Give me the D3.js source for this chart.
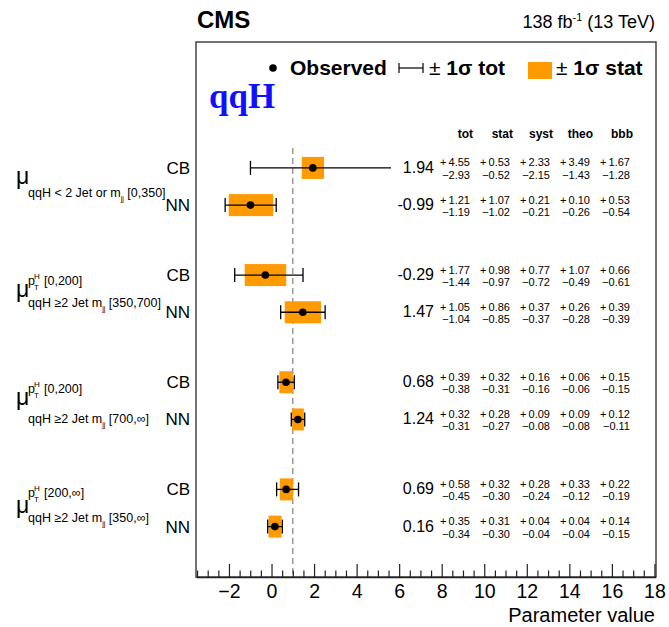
<!DOCTYPE html>
<html>
<head>
<meta charset="utf-8">
<script src="https://cdn.jsdelivr.net/npm/d3@7"></script>
<style>
  body { margin: 0; background: #fff; }
  text { font-family: "Liberation Sans", Arial, Helvetica, sans-serif; }
</style>
</head>
<body>
<div id="main"></div>
<script>
// rows: CB then NN for each of the four bins
var methods = ["CB", "NN"];
var subLabels = ["qqH < 2 Jet or m", "qqH \u22652 Jet m", "qqH \u22652 Jet m", "qqH \u22652 Jet m"];
var mjjRanges = ["[0,350]", "[350,700]", "[700,\u221e]", "[350,\u221e]"];
var ptRanges = [null, "[0,200]", "[0,200]", "[200,\u221e]"];

var observed = [1.94, -0.99, -0.29, 1.47, 0.68, 1.24, 0.69, 0.16];
var totUp  = [4.55, 1.21, 1.77, 1.05, 0.39, 0.32, 0.58, 0.35];
var totDn  = [2.93, 1.19, 1.44, 1.04, 0.38, 0.31, 0.45, 0.34];
var statUp = [0.53, 1.07, 0.98, 0.86, 0.32, 0.28, 0.32, 0.31];
var statDn = [0.52, 1.02, 0.97, 0.85, 0.31, 0.27, 0.30, 0.30];
var systUp = [2.33, 0.21, 0.77, 0.37, 0.16, 0.09, 0.28, 0.04];
var systDn = [2.15, 0.21, 0.72, 0.37, 0.16, 0.08, 0.24, 0.04];
var theoUp = [3.49, 0.10, 1.07, 0.26, 0.06, 0.09, 0.33, 0.04];
var theoDn = [1.43, 0.26, 0.49, 0.28, 0.06, 0.08, 0.12, 0.04];
var bbbUp  = [1.67, 0.53, 0.66, 0.39, 0.15, 0.12, 0.22, 0.14];
var bbbDn  = [1.28, 0.54, 0.61, 0.39, 0.15, 0.11, 0.19, 0.15];

var colNames = ["tot", "stat", "syst", "theo", "bbb"];
var xTicks = [-2, 0, 2, 4, 6, 8, 10, 12, 14, 16, 18];

var width = 669, height = 627;
var frame = {left: 196, right: 656, top: 42, bottom: 577};
var orange = "#ff9a00";

var svg = d3.select("#main").append("svg")
    .attr("width", width)
    .attr("height", height);

var x = d3.scaleLinear()
    .domain([-3.55, 18.05])
    .range([frame.left, 655.5]);

// group centres, CB above / NN below
var yGroup = d3.scaleLinear().domain([0, 3]).range([186.5, 508]);
var rowY = function(i){
  var g = Math.floor(i / 2);
  return yGroup(g) + (i % 2 === 0 ? -18.6 : 18.6);
}

var rows = observed.map(function(d, i){
  return {i: i, v: d, tu: totUp[i], td: totDn[i], su: statUp[i], sd: statDn[i],
    cols: [[totUp[i], totDn[i]], [statUp[i], statDn[i]], [systUp[i], systDn[i]],
           [theoUp[i], theoDn[i]], [bbbUp[i], bbbDn[i]]]};
});

// frame
svg.append("rect")
    .attr("x", frame.left).attr("y", frame.top)
    .attr("width", frame.right - frame.left)
    .attr("height", frame.bottom - frame.top)
    .attr("fill", "none")
    .attr("stroke", "#444")
    .attr("stroke-width", 1.5);

// SM line at 1
svg.append("line")
    .attr("x1", x(1)).attr("x2", x(1))
    .attr("y1", 148).attr("y2", frame.bottom)
    .attr("stroke", "#8a8a8a")
    .attr("stroke-width", 1.3)
    .attr("stroke-dasharray", "6,4");

// axis, ticks pointing up into the frame
var xAxis = d3.axisBottom(x)
    .tickValues(xTicks)
    .tickSizeInner(-13)
    .tickSizeOuter(0)
    .tickPadding(7.5)
    .tickFormat(function(d){ return d < 0 ? "\u2212" + Math.abs(d) : d; });

var minor = d3.range(-3.5, 18.01, 0.5).filter(function(d){ return d % 2 !== 0; });
var xMinor = d3.axisBottom(x)
    .tickValues(minor)
    .tickSizeInner(-6.5)
    .tickSizeOuter(0)
    .tickFormat("");

svg.append("g")
    .attr("transform", "translate(0," + frame.bottom + ")")
    .call(xMinor)
    .call(function(g){ g.select(".domain").remove(); })
    .selectAll("line").attr("stroke", "#222").attr("stroke-width", 1.2);

var ax = svg.append("g")
    .attr("transform", "translate(0," + frame.bottom + ")")
    .call(xAxis);
ax.select(".domain").attr("stroke", "#222").attr("stroke-width", 1.5);
ax.selectAll(".tick line").attr("stroke", "#222").attr("stroke-width", 1.2);
ax.selectAll(".tick text")
    .style("font-family", "Liberation Sans, Arial, sans-serif")
    .style("font-size", "19.5px")
    .style("fill", "#000");

svg.append("text")
    .attr("x", 655).attr("y", 622)
    .attr("text-anchor", "end")
    .style("font-size", "20px")
    .text("Parameter value");

// header texts
svg.append("text")
    .attr("x", 197).attr("y", 28)
    .style("font-size", "24px").style("font-weight", "bold")
    .text("CMS");

var lumi = svg.append("text")
    .attr("x", 655).attr("y", 28)
    .attr("text-anchor", "end")
    .style("font-size", "18px");
lumi.append("tspan").text("138 fb");
lumi.append("tspan").attr("dy", -7).style("font-size", "11px").text("-1");
lumi.append("tspan").attr("dy", 7).text(" (13 TeV)");

svg.append("text")
    .attr("x", 209).attr("y", 108)
    .style("font-family", "Liberation Serif, Times New Roman, serif")
    .style("font-size", "35px").style("font-weight", "bold")
    .style("fill", "#1010ff")
    .text("qqH");

// legend
var legY = 68;
svg.append("circle").attr("cx", 273).attr("cy", legY).attr("r", 3.8).attr("fill", "#000");
svg.append("text").attr("x", 290).attr("y", legY + 7)
    .style("font-size", "21px").style("font-weight", "bold").text("Observed");
svg.append("line").attr("x1", 399).attr("x2", 423).attr("y1", legY).attr("y2", legY)
    .attr("stroke", "#000").attr("stroke-width", 1.2);
[399, 423].forEach(function(cx){
  svg.append("line").attr("x1", cx).attr("x2", cx).attr("y1", legY - 5).attr("y2", legY + 5)
      .attr("stroke", "#000").attr("stroke-width", 1.2);
});
var t1 = svg.append("text").attr("x", 429).attr("y", legY + 7).style("font-size", "21px");
t1.append("tspan").text("\u00b1");
t1.append("tspan").style("font-weight", "bold").text(" 1\u03c3 tot");
svg.append("rect").attr("x", 528).attr("y", legY - 6).attr("width", 24).attr("height", 17)
    .attr("fill", orange);
var t2 = svg.append("text").attr("x", 556).attr("y", legY + 7).style("font-size", "21px");
t2.append("tspan").text("\u00b1");
t2.append("tspan").style("font-weight", "bold").text(" 1\u03c3 stat");

// marks
var capH = 7, boxH = 22;
var marks = svg.selectAll(".row").data(rows).enter().append("g")
    .attr("class", "row")
    .attr("transform", function(d){ return "translate(0," + rowY(d.i) + ")"; });

marks.append("rect")
    .attr("x", function(d){ return x(d.v - d.sd); })
    .attr("y", -boxH / 2)
    .attr("width", function(d){ return x(d.v + d.su) - x(d.v - d.sd); })
    .attr("height", boxH)
    .attr("fill", orange);

marks.append("line")
    .attr("x1", function(d){ return x(d.v - d.td); })
    .attr("x2", function(d){ return x(d.v + d.tu); })
    .attr("stroke", "#000").attr("stroke-width", 1.3);

marks.selectAll(".cap").data(function(d){ return [d.v - d.td, d.v + d.tu]; })
    .enter().append("line")
    .attr("class", "cap")
    .attr("x1", function(d){ return x(d); }).attr("x2", function(d){ return x(d); })
    .attr("y1", -capH).attr("y2", capH)
    .attr("stroke", "#000").attr("stroke-width", 1.3);

marks.append("circle")
    .attr("cx", function(d){ return x(d.v); })
    .attr("r", 3.8)
    .attr("fill", "#000");

// numbers sit on a white patch (covers long error bars like in the original)
marks.append("rect")
    .attr("x", 391).attr("y", -12)
    .attr("width", 260).attr("height", 26)
    .attr("fill", "#fff");

marks.append("text")
    .attr("x", 434).attr("y", 5)
    .attr("text-anchor", "end")
    .style("font-size", "16px")
    .text(function(d){ return d.v.toFixed(2); });

var colX = function(j){ return 470 + 40 * j; };
marks.selectAll(".up").data(function(d){ return d.cols; }).enter().append("text")
    .attr("class", "up")
    .attr("x", function(d, j){ return colX(j); }).attr("y", -1.5)
    .attr("text-anchor", "end")
    .style("font-size", "11px")
    .text(function(d){ return "+\u2009" + d[0].toFixed(2); });
marks.selectAll(".dn").data(function(d){ return d.cols; }).enter().append("text")
    .attr("class", "dn")
    .attr("x", function(d, j){ return colX(j); }).attr("y", 11)
    .attr("text-anchor", "end")
    .style("font-size", "11px")
    .text(function(d){ return "\u2212" + d[1].toFixed(2); });

svg.selectAll(".colhead").data(colNames).enter().append("text")
    .attr("class", "colhead")
    .attr("x", function(d, j){ return colX(j) + 3; }).attr("y", 137.5)
    .attr("text-anchor", "end")
    .style("font-size", "12px").style("font-weight", "bold")
    .text(function(d){ return d; });

// method labels
marks.append("text")
    .attr("x", 190).attr("y", 6)
    .attr("text-anchor", "end")
    .style("font-size", "17px")
    .text(function(d){ return methods[d.i % 2]; });

// parameter labels (per-group offsets)
var muOff = [-3, 3, 4, 5];
var supOff = [0, -8.5, -8, -11];
var subOff = [10.5, 13.5, 22, 14];
subLabels.forEach(function(s, g){
  var yc = yGroup(g);
  svg.append("text").attr("x", 16).attr("y", yc + muOff[g])
      .style("font-size", "23px").text("\u03bc");
  var sub = svg.append("text").attr("x", 28).attr("y", yc + subOff[g]).style("font-size", "12.5px");
  sub.append("tspan").text(s);
  sub.append("tspan").attr("dy", 4).style("font-size", "7px").text("jj");
  sub.append("tspan").attr("dy", -4).text(" " + mjjRanges[g]);
  if (ptRanges[g]) {
    var ys = yc + supOff[g];
    svg.append("text").attr("x", 28).attr("y", ys).style("font-size", "12.5px").text("p");
    svg.append("text").attr("x", 34).attr("y", ys - 6).style("font-size", "8px").text("H");
    svg.append("text").attr("x", 34).attr("y", ys + 5).style("font-size", "8px").text("T");
    svg.append("text").attr("x", 44).attr("y", ys).style("font-size", "12.5px").text(ptRanges[g]);
  }
});
</script>
</body>
</html>
